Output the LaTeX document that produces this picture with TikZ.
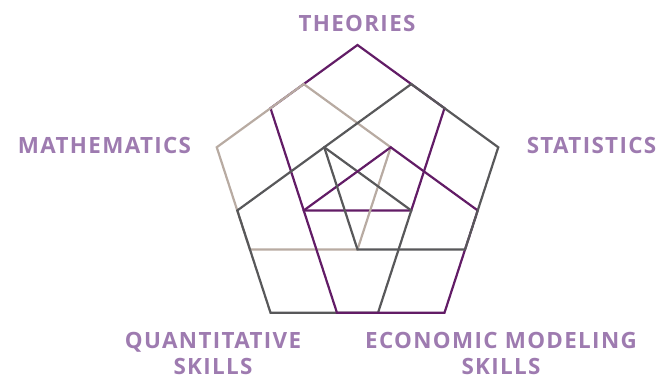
\documentclass[tikz,border=0pt]{standalone}
\usepackage{fontspec}
\setmainfont{Open Sans}
\newfontfamily\labelfont[LetterSpace=6]{Open Sans Bold}
\usetikzlibrary{calc}
\definecolor{thpurple}{HTML}{621C66}
\definecolor{thgray}{HTML}{58585A}
\definecolor{thbeige}{HTML}{B8ABA2}
\definecolor{thlabel}{HTML}{9E7BB0}
\begin{document}
\begin{tikzpicture}[x=1pt,y=-1pt,
  shapeline/.style={line width=2.2pt,line join=miter},
  lbl/.style={font=\labelfont\fontsize{22.4}{25.7}\selectfont,text=thlabel,inner sep=0pt,align=center,anchor=base}]
\useasboundingbox (0,0) rectangle (662,378);
% outer pentagon
\coordinate (V0) at (357.5,45);
\coordinate (V1) at (498.256,147.265);
\coordinate (V2) at (444.492,312.734);
\coordinate (V3) at (270.508,312.734);
\coordinate (V4) at (216.744,147.265);
% inner inverted pentagon
\coordinate (J36) at (390.728,147.266);
\coordinate (J108) at (411.264,210.469);
\coordinate (J180) at (357.5,249.53);
\coordinate (J252) at (303.736,210.469);
\coordinate (J324) at (324.272,147.266);
% edge points (0.382 from the first vertex)
\def\g{0.381966}
\coordinate (E04) at ($(V0)!\g!(V4)$);
\coordinate (E40) at ($(V4)!\g!(V0)$);
\coordinate (E01) at ($(V0)!\g!(V1)$);
\coordinate (E10) at ($(V1)!\g!(V0)$);
\coordinate (E12) at ($(V1)!\g!(V2)$);
\coordinate (E21) at ($(V2)!\g!(V1)$);
\coordinate (E23) at ($(V2)!\g!(V3)$);
\coordinate (E32) at ($(V3)!\g!(V2)$);
\coordinate (E34) at ($(V3)!\g!(V4)$);
\coordinate (E43) at ($(V4)!\g!(V3)$);
% shapes, in stacking order
% theories
\draw[shapeline,thpurple] (V0) -- (E10) -- (J108) -- (J252) -- (E40) -- cycle;
% mathematics
\draw[shapeline,thbeige] (V4) -- (E04) -- (J36) -- (J180) -- (E34) -- cycle;
% quantitative skills
\draw[shapeline,thgray] (V3) -- (E43) -- (J324) -- (J108) -- (E23) -- cycle;
% economic modeling
\draw[shapeline,thpurple] (V2) -- (E32) -- (J252) -- (J36) -- (E12) -- cycle;
% statistics
\draw[shapeline,thgray] (V1) -- (E21) -- (J180) -- (J324) -- (E01) -- cycle;
% labels
\node[lbl] (theo) at (357,31.5) {THEORIES};
\node[lbl] (math) at (104.5,153.3) {MATHEMATICS};
\node[lbl] (stat) at (591.5,153.3) {STATISTICS};
\node[lbl] (quant) at (213,374) {QUANTITATIVE\\SKILLS};
\node[lbl] (econ) at (501,374) {ECONOMIC MODELING\\SKILLS};
\end{tikzpicture}
\end{document}
